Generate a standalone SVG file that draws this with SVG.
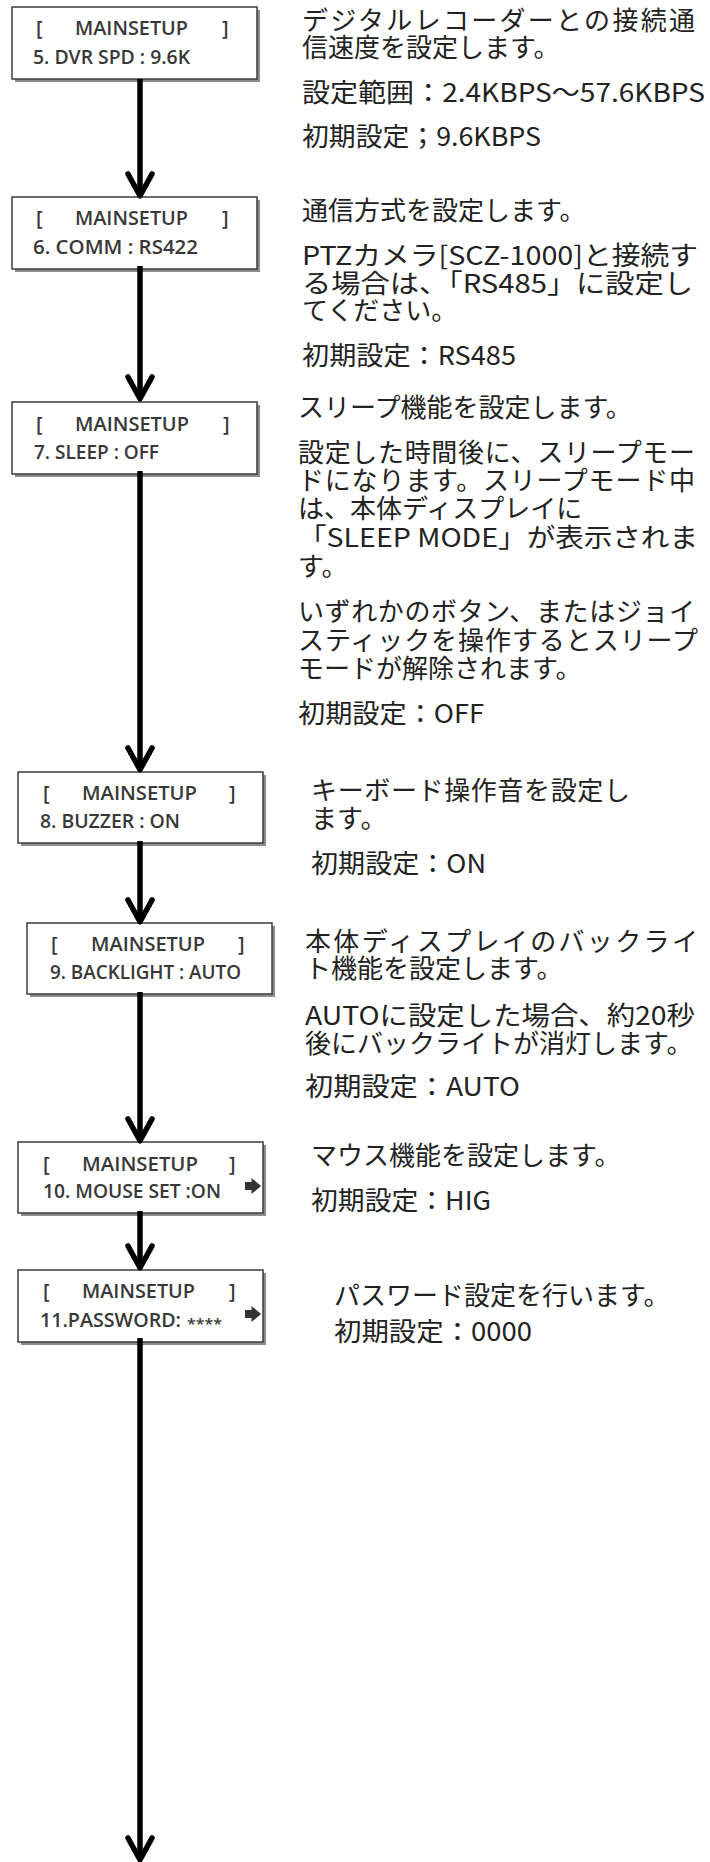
<svg xmlns="http://www.w3.org/2000/svg" xmlns:xlink="http://www.w3.org/1999/xlink" width="710" height="1862" viewBox="0 0 710 1862">
<style>
.shadow{fill:#8c8c8c}
.box{fill:#fff;stroke:#3c3c3c;stroke-width:1.5}
.lcd{font-family:"Open Sans","Liberation Sans",sans-serif;font-size:20px;font-weight:600;fill:#383838}
.ast{font-family:"Open Sans","Liberation Sans",sans-serif;font-size:14px;font-weight:600;fill:#383838}
.icon{fill:#333}
.desc{font-family:"Noto Sans CJK JP","Noto Sans",sans-serif;font-size:26px;fill:#222}
.conn{stroke:#000;stroke-width:5.5;fill:none;marker-end:url(#chev)}
</style>
<defs>
<marker id="chev" markerUnits="userSpaceOnUse" viewBox="-26 -18 32 36" markerWidth="32" markerHeight="36" refX="0" refY="0" orient="auto" overflow="visible">
<path d="M-19,-12 L2.75,0 L-19,12" fill="none" stroke="#000" stroke-width="5.5" stroke-linecap="round" stroke-linejoin="round"/>
</marker>
<polygon id="rarrow" points="0,-4 6.5,-4 6.5,-8 16,0 6.5,8 6.5,4 0,4"/>
</defs>

<g id="node5">
<rect class="shadow" x="15" y="10" width="245" height="72"/>
<rect class="box" x="12" y="7" width="245" height="72"/>
<text class="lcd"><tspan x="36" y="35">[</tspan><tspan x="75" y="35" textLength="113" lengthAdjust="spacingAndGlyphs">MAINSETUP</tspan><tspan x="222" y="35">]</tspan></text>
<text class="lcd" x="33" y="64" textLength="157" lengthAdjust="spacingAndGlyphs">5. DVR SPD : 9.6K</text>
</g>
<g id="desc5">
<text class="desc" x="302" y="30" textLength="393" lengthAdjust="spacing">デジタルレコーダーとの接続通</text>
<text class="desc" x="302" y="57">信速度を設定します。</text>
<text class="desc" x="302" y="102" textLength="403" lengthAdjust="spacingAndGlyphs">設定範囲：2.4KBPS～57.6KBPS</text>
<text class="desc" x="302" y="146" textLength="239" lengthAdjust="spacingAndGlyphs">初期設定；9.6KBPS</text>
</g>

<g id="node6">
<rect class="shadow" x="15" y="200" width="245" height="72"/>
<rect class="box" x="12" y="197" width="245" height="72"/>
<text class="lcd"><tspan x="36" y="225">[</tspan><tspan x="75" y="225" textLength="113" lengthAdjust="spacingAndGlyphs">MAINSETUP</tspan><tspan x="222" y="225">]</tspan></text>
<text class="lcd" x="33" y="254" textLength="165" lengthAdjust="spacingAndGlyphs">6. COMM : RS422</text>
</g>
<g id="desc6">
<text class="desc" x="302" y="220">通信方式を設定します。</text>
<text class="desc" x="302" y="265" textLength="396" lengthAdjust="spacingAndGlyphs">PTZカメラ[SCZ-1000]と接続す</text>
<text class="desc" x="302" y="293" textLength="391" lengthAdjust="spacingAndGlyphs">る場合は、「RS485」に設定し</text>
<text class="desc" x="302" y="320">てください。</text>
<text class="desc" x="302" y="365" textLength="214" lengthAdjust="spacingAndGlyphs">初期設定：RS485</text>
</g>

<g id="node7">
<rect class="shadow" x="15" y="405" width="245" height="72"/>
<rect class="box" x="12" y="402" width="245" height="72"/>
<text class="lcd"><tspan x="36" y="431">[</tspan><tspan x="75" y="431" textLength="114" lengthAdjust="spacingAndGlyphs">MAINSETUP</tspan><tspan x="223" y="431">]</tspan></text>
<text class="lcd" x="34" y="459" textLength="125" lengthAdjust="spacingAndGlyphs">7. SLEEP : OFF</text>
</g>
<g id="desc7">
<text class="desc" x="298" y="417">スリープ機能を設定します。</text>
<text class="desc" x="298" y="462" textLength="397" lengthAdjust="spacing">設定した時間後に、スリープモー</text>
<text class="desc" x="298" y="490" textLength="397" lengthAdjust="spacing">ドになります。スリープモード中</text>
<text class="desc" x="298" y="518">は、本体ディスプレイに</text>
<text class="desc" x="298" y="547" textLength="400" lengthAdjust="spacingAndGlyphs">「SLEEP MODE」が表示されま</text>
<text class="desc" x="298" y="576">す。</text>
<text class="desc" x="298" y="621" textLength="397" lengthAdjust="spacing">いずれかのボタン、またはジョイ</text>
<text class="desc" x="298" y="650" textLength="400" lengthAdjust="spacing">スティックを操作するとスリープ</text>
<text class="desc" x="298" y="678">モードが解除されます。</text>
<text class="desc" x="298" y="723" textLength="186" lengthAdjust="spacingAndGlyphs">初期設定：OFF</text>
</g>

<g id="node8">
<rect class="shadow" x="21" y="775" width="245" height="71"/>
<rect class="box" x="18" y="772" width="245" height="71"/>
<text class="lcd"><tspan x="43" y="800">[</tspan><tspan x="82" y="800" textLength="115" lengthAdjust="spacingAndGlyphs">MAINSETUP</tspan><tspan x="229" y="800">]</tspan></text>
<text class="lcd" x="40" y="828" textLength="140" lengthAdjust="spacingAndGlyphs">8. BUZZER : ON</text>
</g>
<g id="desc8">
<text class="desc" x="311" y="800" textLength="319" lengthAdjust="spacing">キーボード操作音を設定し</text>
<text class="desc" x="311" y="828">ます。</text>
<text class="desc" x="311" y="873" textLength="175" lengthAdjust="spacingAndGlyphs">初期設定：ON</text>
</g>

<g id="node9">
<rect class="shadow" x="30" y="926" width="245" height="71"/>
<rect class="box" x="27" y="923" width="245" height="71"/>
<text class="lcd"><tspan x="51" y="951">[</tspan><tspan x="91" y="951" textLength="114" lengthAdjust="spacingAndGlyphs">MAINSETUP</tspan><tspan x="238" y="951">]</tspan></text>
<text class="lcd" x="50" y="979" textLength="191" lengthAdjust="spacingAndGlyphs">9. BACKLIGHT : AUTO</text>
</g>
<g id="desc9">
<text class="desc" x="305" y="951" textLength="393" lengthAdjust="spacing">本体ディスプレイのバックライ</text>
<text class="desc" x="305" y="978">ト機能を設定します。</text>
<text class="desc" x="305" y="1025" textLength="390" lengthAdjust="spacingAndGlyphs">AUTOに設定した場合、約20秒</text>
<text class="desc" x="305" y="1053">後にバックライトが消灯します。</text>
<text class="desc" x="305" y="1096" textLength="215" lengthAdjust="spacingAndGlyphs">初期設定：AUTO</text>
</g>

<g id="node10">
<rect class="shadow" x="21" y="1145" width="245" height="71"/>
<rect class="box" x="18" y="1142" width="245" height="71"/>
<text class="lcd"><tspan x="43" y="1171">[</tspan><tspan x="82" y="1171" textLength="116" lengthAdjust="spacingAndGlyphs">MAINSETUP</tspan><tspan x="229" y="1171">]</tspan></text>
<text class="lcd" x="43" y="1198" textLength="178" lengthAdjust="spacingAndGlyphs">10. MOUSE SET :ON</text>
<use xlink:href="#rarrow" class="icon" x="245" y="1186"/>
</g>
<g id="desc10">
<text class="desc" x="311" y="1165">マウス機能を設定します。</text>
<text class="desc" x="311" y="1210" textLength="180" lengthAdjust="spacingAndGlyphs">初期設定：HIG</text>
</g>

<g id="node11">
<rect class="shadow" x="21" y="1273" width="245" height="72"/>
<rect class="box" x="18" y="1270" width="245" height="72"/>
<text class="lcd"><tspan x="43" y="1298">[</tspan><tspan x="82" y="1298" textLength="113" lengthAdjust="spacingAndGlyphs">MAINSETUP</tspan><tspan x="229" y="1298">]</tspan></text>
<text class="lcd" x="40" y="1327" textLength="141" lengthAdjust="spacingAndGlyphs">11.PASSWORD:</text>
<text class="ast" x="187" y="1329" textLength="35" lengthAdjust="spacingAndGlyphs">****</text>
<use xlink:href="#rarrow" class="icon" x="245" y="1314"/>
</g>
<g id="desc11">
<text class="desc" x="334" y="1305">パスワード設定を行います。</text>
<text class="desc" x="334" y="1341" textLength="198" lengthAdjust="spacingAndGlyphs">初期設定：0000</text>
</g>

<g id="connectors">
<line class="conn" x1="140" y1="79" x2="140" y2="193"/>
<line class="conn" x1="140" y1="266" x2="140" y2="396"/>
<line class="conn" x1="140" y1="471" x2="140" y2="767"/>
<line class="conn" x1="140" y1="841" x2="140" y2="919"/>
<line class="conn" x1="140" y1="992" x2="140" y2="1138"/>
<line class="conn" x1="140" y1="1211" x2="140" y2="1265"/>
<line class="conn" x1="140" y1="1338" x2="140" y2="1857"/>
</g>
</svg>
